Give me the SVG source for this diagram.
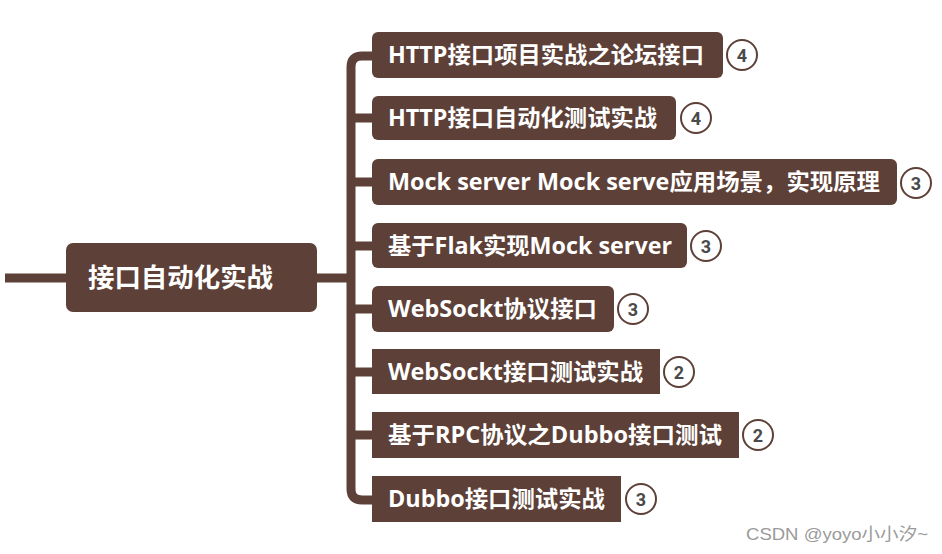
<svg xmlns="http://www.w3.org/2000/svg" width="942" height="554" viewBox="0 0 942 554">
<style>
.box{fill:#5d4037}
.t{fill:#ffffff;font-family:"Open Sans","Noto Sans CJK SC",sans-serif;font-weight:bold;font-size:23px}
.rt{fill:#ffffff;font-family:"Open Sans","Noto Sans CJK SC",sans-serif;font-weight:bold;font-size:26px}
.c{fill:#ffffff;stroke:#5d4037;stroke-width:2}
.n{fill:#4a4a4a;font-family:Roboto,"Liberation Sans",sans-serif;font-weight:bold;font-size:18px;text-anchor:middle}
.ln{fill:none;stroke:#5d4037;stroke-width:9}
</style>
<rect width="942" height="554" fill="#ffffff"/>
<g id="connectors">
<path class="ln" d="M5,278 H66" stroke-width="10"/>
<path class="ln" d="M317,278 H351"/>
<path class="ln" d="M374,56 H362 Q351,56 351,67 V489 Q351,500 362,500 H374"/>
<path class="ln" d="M351,118 H374 M351,182 H374 M351,246 H374 M351,309 H374 M351,372 H374 M351,435 H374"/>
</g>
<g id="root">
<rect class="box" x="66" y="243" width="251" height="69" rx="7"/>
<text class="rt" x="88" y="287" textLength="185" lengthAdjust="spacingAndGlyphs">接口自动化实战</text>
</g>
<g id="n1">
<rect class="box" x="372" y="32" width="351" height="46" rx="6"/>
<text class="t" x="388" y="63" textLength="316" lengthAdjust="spacingAndGlyphs">HTTP接口项目实战之论坛接口</text>
<circle class="c" cx="742" cy="55" r="15"/><text class="n" x="742" y="61.5">4</text>
</g>
<g id="n2">
<rect class="box" x="372" y="96" width="304" height="44" rx="6"/>
<text class="t" x="388" y="126" textLength="269" lengthAdjust="spacingAndGlyphs">HTTP接口自动化测试实战</text>
<circle class="c" cx="696" cy="118" r="15"/><text class="n" x="696" y="124.5">4</text>
</g>
<g id="n3">
<rect class="box" x="372" y="159" width="525" height="46" rx="6"/>
<text class="t" x="388" y="190" textLength="492" lengthAdjust="spacingAndGlyphs">Mock server Mock serve应用场景，实现原理</text>
<circle class="c" cx="916" cy="183" r="15"/><text class="n" x="916" y="189.5">3</text>
</g>
<g id="n4">
<rect class="box" x="372" y="223" width="315" height="45" rx="6"/>
<text class="t" x="388" y="254" textLength="284" lengthAdjust="spacingAndGlyphs">基于Flak实现Mock server</text>
<circle class="c" cx="706" cy="246" r="15"/><text class="n" x="706" y="252.5">3</text>
</g>
<g id="n5">
<rect class="box" x="372" y="286" width="242" height="46" rx="6"/>
<text class="t" x="388" y="317" textLength="209" lengthAdjust="spacingAndGlyphs">WebSockt协议接口</text>
<circle class="c" cx="633" cy="309" r="15"/><text class="n" x="633" y="315.5">3</text>
</g>
<g id="n6">
<rect class="box" x="372" y="349" width="288" height="45"/>
<text class="t" x="388" y="380" textLength="255" lengthAdjust="spacingAndGlyphs">WebSockt接口测试实战</text>
<circle class="c" cx="679" cy="372" r="15"/><text class="n" x="679" y="378.5">2</text>
</g>
<g id="n7">
<rect class="box" x="372" y="412" width="367" height="46"/>
<text class="t" x="388" y="443" textLength="334" lengthAdjust="spacingAndGlyphs">基于RPC协议之Dubbo接口测试</text>
<circle class="c" cx="758" cy="435" r="15"/><text class="n" x="758" y="441.5">2</text>
</g>
<g id="n8">
<rect class="box" x="372" y="476" width="249" height="46"/>
<text class="t" x="388" y="507" textLength="217" lengthAdjust="spacingAndGlyphs">Dubbo接口测试实战</text>
<circle class="c" cx="641" cy="499" r="15"/><text class="n" x="641" y="505.5">3</text>
</g>
<text x="746" y="540" fill="#9a9a9a" font-family="'Liberation Sans','Noto Sans CJK SC',sans-serif" font-size="17" textLength="182" lengthAdjust="spacingAndGlyphs">CSDN @yoyo小小汐~</text>
</svg>
